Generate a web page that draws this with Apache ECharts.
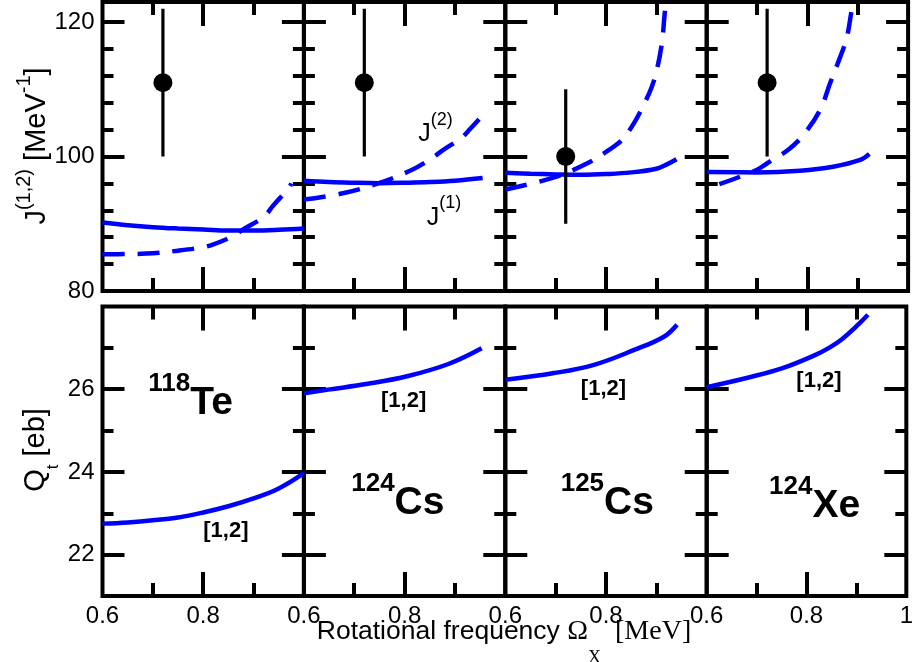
<!DOCTYPE html>
<html>
<head>
<meta charset="utf-8">
<script src="https://cdn.jsdelivr.net/npm/echarts@6/dist/echarts.min.js"></script>
<style>
  html, body { margin: 0; padding: 0; background: #fff; }
  #chart { width: 916px; height: 662px; }
</style>
</head>
<body>
<div id="chart"></div>
<script>
// ---- data -------------------------------------------------------------
// nuclei shown in the four columns
const massNumbers = ['118', '124', '125', '124'];
const elements = ['Te', 'Cs', 'Cs', 'Xe'];

// kinematic moment of inertia J(1) [MeV^-1] vs rotational frequency [MeV]
const j1_118Te = [[0.60, 90.2], [0.65, 89.8], [0.70, 89.5], [0.75, 89.3], [0.80, 89.15], [0.85, 89.0], [0.90, 89.0], [0.95, 89.1], [1.00, 89.3]];
const j1_124Cs = [[0.60, 96.4], [0.65, 96.2], [0.70, 96.1], [0.75, 96.05], [0.80, 96.1], [0.85, 96.2], [0.90, 96.4], [0.955, 96.8]];
const j1_125Cs = [[0.60, 97.6], [0.65, 97.45], [0.70, 97.35], [0.75, 97.3], [0.80, 97.4], [0.85, 97.65], [0.90, 98.2], [0.92, 98.8], [0.94, 99.6]];
const j1_124Xe = [[0.60, 97.7], [0.70, 97.65], [0.785, 97.9], [0.851, 98.5], [0.905, 99.5], [0.923, 100.4]];

// dynamic moment of inertia J(2) [MeV^-1]
const j2_118Te = [[0.60, 85.45], [0.65, 85.5], [0.70, 85.6], [0.75, 86.0], [0.79, 86.4], [0.815, 86.8], [0.86, 88.2], [0.88, 89.2], [0.92, 91.0], [0.94, 92.8], [0.97, 95.3], [0.975, 96.0]];
const j2_124Cs = [[0.60, 93.6], [0.675, 94.5], [0.747, 96.0], [0.814, 98.0], [0.853, 99.7], [0.877, 101.0], [0.913, 102.8], [0.93, 104.1], [0.952, 105.9]];
const j2_125Cs = [[0.60, 95.1], [0.697, 96.9], [0.763, 99.0], [0.806, 101.0], [0.832, 102.5], [0.855, 104.9], [0.875, 107.7], [0.891, 110.4], [0.901, 112.9], [0.911, 116.9], [0.916, 120.8], [0.92, 124.0]];
const j2_124Xe = [[0.625, 95.9], [0.666, 97.0], [0.699, 98.0], [0.732, 99.6], [0.762, 101.0], [0.792, 103.2], [0.825, 106.9], [0.845, 110.9], [0.865, 114.8], [0.878, 117.6], [0.888, 121.8], [0.894, 124.0]];

// transition quadrupole moment Qt [eb]
const qt_118Te = [[0.60, 22.75], [0.65, 22.78], [0.70, 22.83], [0.75, 22.9], [0.80, 23.02], [0.85, 23.17], [0.90, 23.36], [0.95, 23.6], [1.00, 23.97]];
const qt_124Cs = [[0.60, 25.9], [0.648, 25.99], [0.727, 26.13], [0.807, 26.32], [0.887, 26.61], [0.953, 26.99]];
const qt_125Cs = [[0.60, 26.23], [0.697, 26.39], [0.776, 26.59], [0.856, 26.95], [0.915, 27.27], [0.941, 27.56]];
const qt_124Xe = [[0.60, 26.05], [0.686, 26.29], [0.752, 26.51], [0.818, 26.83], [0.845, 27.0], [0.871, 27.21], [0.905, 27.58], [0.923, 27.8]];

// experimental moment of inertia with its error bar
const expOmega = [0.72, 0.72, 0.72, 0.72];
const expJ = [111, 111, 100, 111];
const expJLow = [100, 100, 90, 100];
const expJHigh = [122, 122, 110, 122];

// axes and ticks
const omegaRange = [0.6, 1.0];
const jRange = [80, 123];
const qRange = [21, 28];
const omegaMajorTicks = [0.8];
const omegaMinorTicks = [0.7, 0.9];
const omegaLabels = [0.6, 0.8];
const omegaLabelsLast = [0.6, 0.8, 1.0];
const jMajorTicks = [100, 120];
const jMinorTicks = [84, 88, 92, 96, 104, 108, 112, 116];
const jLabels = [80, 100, 120];
const qMajorTicks = [22, 24, 26];
const qMinorTicks = [23, 25, 27];
const qLabels = [22, 24, 26];

// ---- drawing ----------------------------------------------------------
const SANS = '"Liberation Sans", Arial, Helvetica, sans-serif';
const SERIF = '"Liberation Serif", "Times New Roman", serif';
const BLUE = '#0000ff';
const BLACK = '#000000';

const PANEL_LEFT = 102.5;
const PANEL_W = 201.4;
const ROW_BOX = [{ top: 2, height: 289 }, { top: 306.5, height: 289.5 }];

const j1Sets = [j1_118Te, j1_124Cs, j1_125Cs, j1_124Xe];
const j2Sets = [j2_118Te, j2_124Cs, j2_125Cs, j2_124Xe];
const qtSets = [qt_118Te, qt_124Cs, qt_125Cs, qt_124Xe];

const grid = [], xAxis = [], yAxis = [], series = [];
const axisRef = []; // [xAxisIndex, yAxisIndex] used by the series of each grid

function tickStyle(len, values) {
  return { show: true, inside: true, length: len, customValues: values,
           lineStyle: { color: BLACK, width: 4 } };
}
function labelStyle(values, fmt) {
  return { show: true, customValues: values, margin: 8, fontSize: 24,
           fontFamily: SANS, color: BLACK, formatter: fmt };
}
const omegaFmt = v => (Math.abs(v - 1) < 1e-9 ? '1' : v.toFixed(1));

for (let row = 0; row < 2; row++) {
  for (let col = 0; col < 4; col++) {
    const g = grid.length;
    grid.push({
      left: PANEL_LEFT + col * PANEL_W, width: PANEL_W,
      top: ROW_BOX[row].top, height: ROW_BOX[row].height,
      show: true, borderColor: BLACK, borderWidth: 4, backgroundColor: 'transparent',
      containLabel: false
    });
    const xi = xAxis.length, yi = yAxis.length;
    axisRef.push([xi, yi]);
    const xLabels = row === 1 ? (col === 3 ? omegaLabelsLast : omegaLabels) : null;
    const baseX = { type: 'value', gridIndex: g, min: omegaRange[0], max: omegaRange[1],
                    axisLine: { show: false }, splitLine: { show: false } };
    xAxis.push(Object.assign({}, baseX, { position: 'bottom', axisTick: tickStyle(24, omegaMajorTicks),
      axisLabel: xLabels ? labelStyle(xLabels, omegaFmt) : { show: false } }));
    xAxis.push(Object.assign({}, baseX, { position: 'bottom', axisTick: tickStyle(13, omegaMinorTicks), axisLabel: { show: false } }));
    xAxis.push(Object.assign({}, baseX, { position: 'top', axisTick: tickStyle(24, omegaMajorTicks), axisLabel: { show: false } }));
    xAxis.push(Object.assign({}, baseX, { position: 'top', axisTick: tickStyle(13, omegaMinorTicks), axisLabel: { show: false } }));

    const range = row === 0 ? jRange : qRange;
    const major = row === 0 ? jMajorTicks : qMajorTicks;
    const minor = row === 0 ? jMinorTicks : qMinorTicks;
    const yLab = col === 0 ? (row === 0 ? jLabels : qLabels) : null;
    const baseY = { type: 'value', gridIndex: g, min: range[0], max: range[1],
                    axisLine: { show: false }, splitLine: { show: false } };
    yAxis.push(Object.assign({}, baseY, { position: 'left', axisTick: tickStyle(22, major),
      axisLabel: yLab ? labelStyle(yLab, v => String(v)) : { show: false } }));
    yAxis.push(Object.assign({}, baseY, { position: 'left', axisTick: tickStyle(11, minor), axisLabel: { show: false } }));
    yAxis.push(Object.assign({}, baseY, { position: 'right', axisTick: tickStyle(22, major), axisLabel: { show: false } }));
    yAxis.push(Object.assign({}, baseY, { position: 'right', axisTick: tickStyle(11, minor), axisLabel: { show: false } }));

    const common = { xAxisIndex: xi, yAxisIndex: yi, showSymbol: false, symbol: 'none',
                     animation: false, silent: true };
    if (row === 0) {
      series.push(Object.assign({}, common, { type: 'line', name: 'J(1)', data: j1Sets[col], smooth: 0.4, z: 2,
        lineStyle: { color: BLUE, width: 4.5 } }));
      series.push(Object.assign({}, common, { type: 'line', name: 'J(2)', data: j2Sets[col], smooth: 0.35, z: 2,
        lineStyle: { color: BLUE, width: 4.5, type: [22, 13] } }));
      series.push(Object.assign({}, common, { type: 'line', name: 'error', z: 3,
        data: [[expOmega[col], expJLow[col]], [expOmega[col], expJHigh[col]]],
        lineStyle: { color: BLACK, width: 3.2 } }));
      series.push({ type: 'scatter', xAxisIndex: xi, yAxisIndex: yi, z: 4, animation: false, silent: true,
        symbol: 'circle', symbolSize: 19, itemStyle: { color: BLACK, opacity: 1 },
        data: [[expOmega[col], expJ[col]]] });
    } else {
      series.push(Object.assign({}, common, { type: 'line', name: 'Qt', data: qtSets[col], smooth: 0.4, z: 2,
        lineStyle: { color: BLUE, width: 4.5 } }));
    }
  }
}

const chart = echarts.init(document.getElementById('chart'), null, { renderer: 'canvas' });
chart.setOption({ animation: false, backgroundColor: '#ffffff', grid, xAxis, yAxis, series });

// ---- text annotations ---------------------------------------------------
function px(g, x, y) {
  return chart.convertToPixel({ xAxisIndex: axisRef[g][0], yAxisIndex: axisRef[g][1] }, [x, y]);
}

// Rich text whose small pieces are raised (shift > 0) or lowered (shift < 0)
// relative to the main pieces. Returns the rich string/styles and the offset
// from the text box centre to the centre of the main pieces.
function scripted(parts, main, small, shift) {
  const fm = main.fontSize, fs = small.fontSize;
  const L = Math.abs(shift) + fm / 2 + fs / 2;
  const up = shift > 0;
  const mainAlign = up ? 'bottom' : 'top';
  const rich = {
    m: Object.assign({ fill: BLACK, lineHeight: L, verticalAlign: mainAlign }, main),
    s: Object.assign({ fill: BLACK, lineHeight: L, verticalAlign: up ? 'top' : 'bottom' }, small)
  };
  for (const k in main.extra || {}) {
    rich[k] = Object.assign({ fill: BLACK, lineHeight: L, verticalAlign: mainAlign }, main.extra[k]);
  }
  delete rich.m.extra;
  const text = parts.map(p => '{' + p[1] + '|' + p[0] + '}').join('');
  const d = L / 2 - fm / 2;
  return { text, rich, offset: up ? d : -d };
}

const graphic = [];

// y axis titles, rotated to read upwards
const jTitle = scripted([['J', 'm'], ['(1,2)', 's'], [' [MeV', 'm'], ['-1', 's'], [']', 'm']],
  { fontSize: 29, fontFamily: SANS }, { fontSize: 20, fontFamily: SANS }, 13);
graphic.push({ type: 'text', x: 37 - jTitle.offset, y: 146, rotation: Math.PI / 2, silent: true,
  style: { text: jTitle.text, rich: jTitle.rich, align: 'center', verticalAlign: 'middle', fill: BLACK } });

const qTitle = scripted([['Q', 'm'], ['t', 's'], [' [eb]', 'm']],
  { fontSize: 29, fontFamily: SANS }, { fontSize: 17, fontFamily: SANS }, -17);
graphic.push({ type: 'text', x: 36 - qTitle.offset, y: 450, rotation: Math.PI / 2, silent: true,
  style: { text: qTitle.text, rich: qTitle.rich, align: 'center', verticalAlign: 'middle', fill: BLACK } });

// x axis title
const xTitle = scripted([['Rotational frequency ', 'm'], ['Ω', 'o'], ['X', 's'], ['  [MeV]', 'o']],
  { fontSize: 26.5, fontFamily: SANS, extra: { o: { fontSize: 28, fontFamily: SERIF } } },
  { fontSize: 18, fontFamily: SERIF }, -27);
graphic.push({ type: 'text', x: 504, y: 631 - xTitle.offset, silent: true,
  style: { text: xTitle.text, rich: xTitle.rich, align: 'center', verticalAlign: 'middle', fill: BLACK } });

// J(1) / J(2) curve names in the 124Cs panel
const curveNames = [
  { g: 1, x: 0.827, y: 103.27, sup: '(2)' },
  { g: 1, x: 0.844, y: 90.85, sup: '(1)' }
];
curveNames.forEach(c => {
  const p = px(c.g, c.x, c.y);
  const t = scripted([['J', 'm'], [c.sup, 's']], { fontSize: 25, fontFamily: SANS },
    { fontSize: 18, fontFamily: SANS }, 15);
  graphic.push({ type: 'text', x: p[0], y: p[1] - t.offset, silent: true,
    style: { text: t.text, rich: t.rich, align: 'left', verticalAlign: 'middle', fill: BLACK } });
});

// configuration tag on each Qt curve
const tagPos = [[0.845, 22.58], [0.798, 25.72], [0.795, 26.01], [0.825, 26.2]];
tagPos.forEach((t, col) => {
  const p = px(4 + col, t[0], t[1]);
  graphic.push({
    type: 'text', x: p[0], y: p[1], silent: true,
    style: { text: '[1,2]', align: 'center', verticalAlign: 'middle', fill: BLACK,
             fontSize: 22, fontWeight: 'bold', fontFamily: SANS }
  });
});

// nucleus names
const nucleusPos = [[0.691, 25.66], [0.694, 23.25], [0.71, 23.25], [0.725, 23.17]];
nucleusPos.forEach((t, col) => {
  const p = px(4 + col, t[0], t[1]);
  const lab = scripted([[massNumbers[col], 's'], [elements[col], 'm']],
    { fontSize: 39, fontWeight: 'bold', fontFamily: SANS },
    { fontSize: 26, fontWeight: 'bold', fontFamily: SANS }, 19);
  graphic.push({ type: 'text', x: p[0], y: p[1] - lab.offset, silent: true,
    style: { text: lab.text, rich: lab.rich, align: 'left', verticalAlign: 'middle', fill: BLACK } });
});

chart.setOption({ graphic });
</script>
</body>
</html>
